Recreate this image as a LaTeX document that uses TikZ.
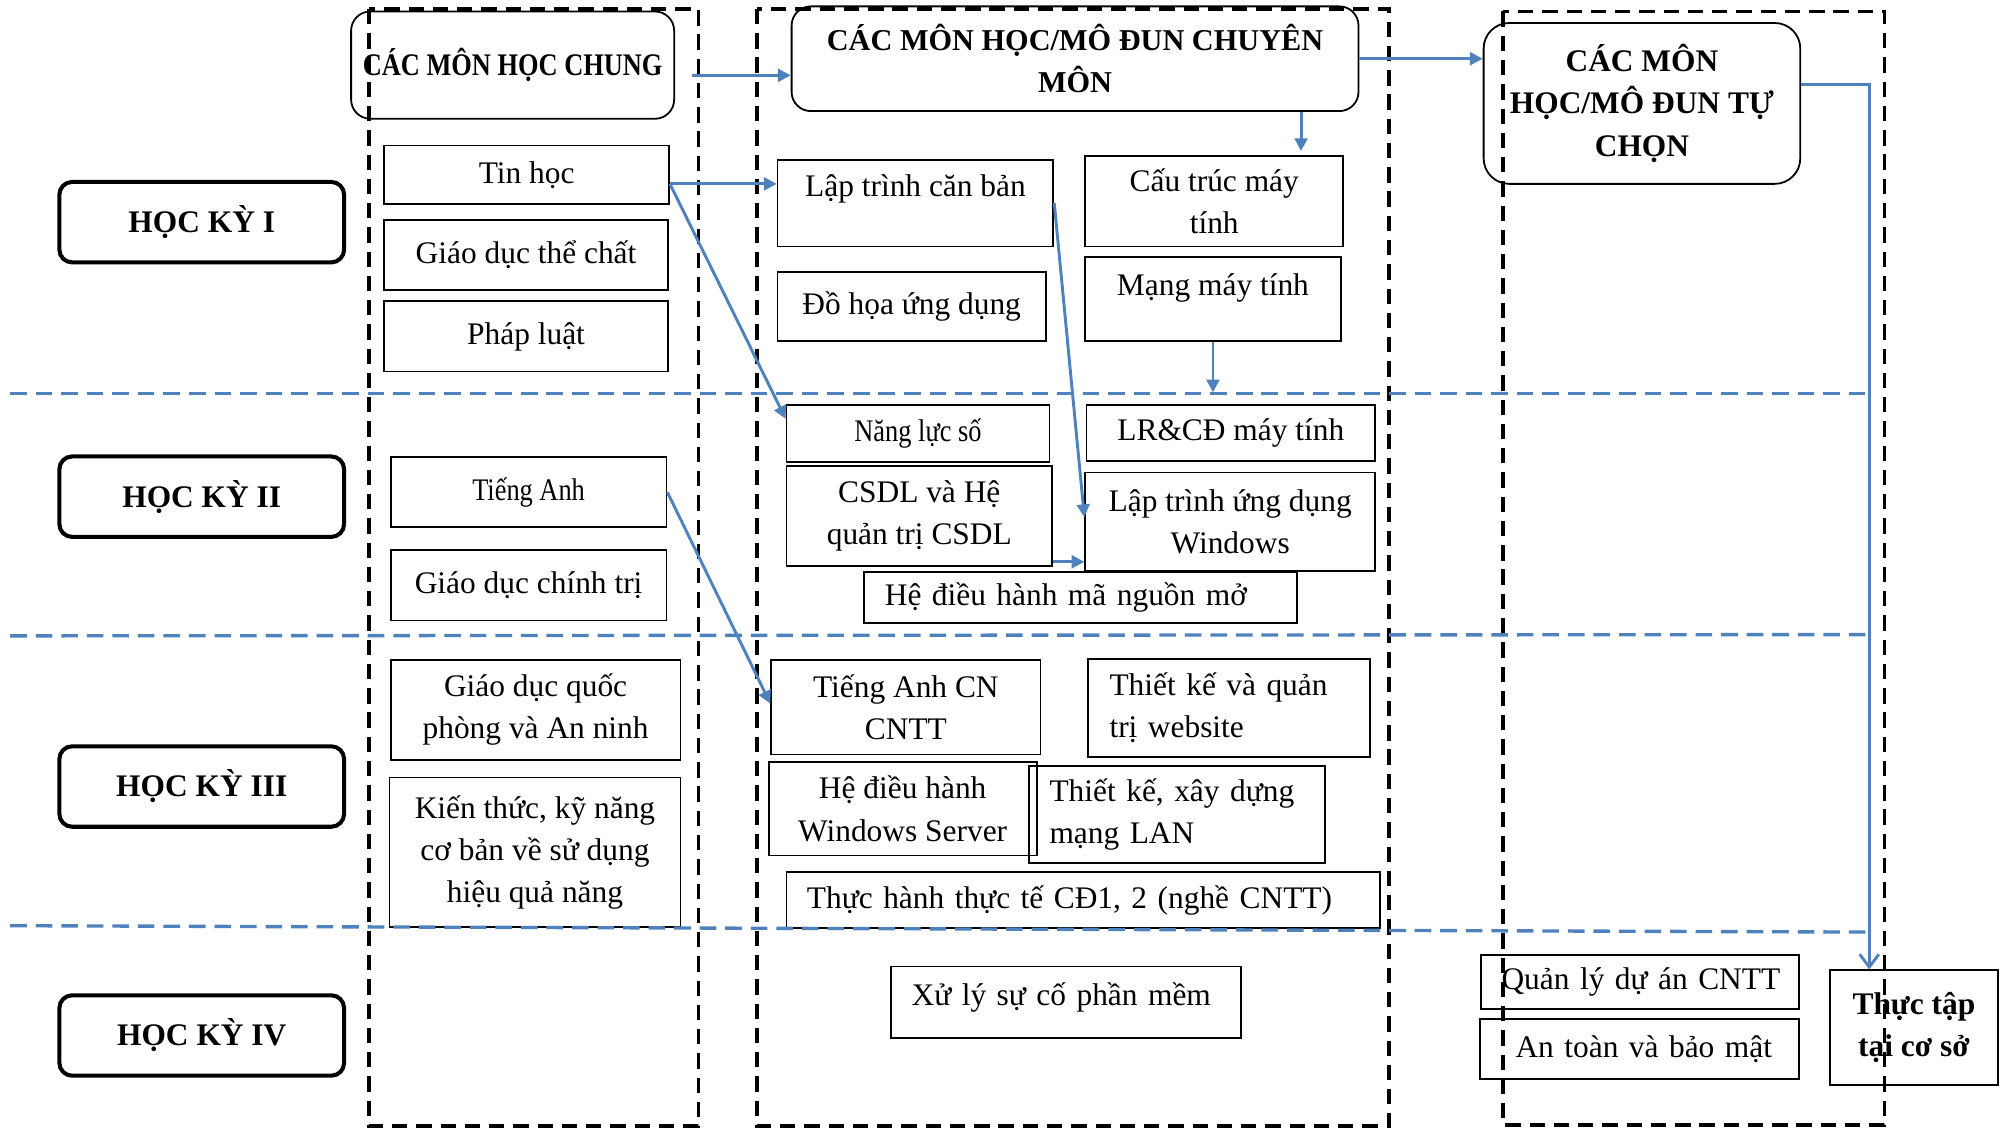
\documentclass[tikz,border=0pt]{standalone}
\usepackage{fontspec}
\setmainfont{Liberation Serif}
\newfontfamily\narrowfont[FakeStretch=0.84]{Liberation Serif}
\usetikzlibrary{arrows.meta}
\definecolor{lineblue}{RGB}{79,129,189}

\begin{document}
\begin{tikzpicture}[x=0.2mm, y=-0.2mm,
    every node/.style={font=\fontsize{14}{18.8}\selectfont},
    box/.style={draw, line width=0.8pt, inner sep=0pt, align=center},
    lbox/.style={box, align=left, inner xsep=3.2mm},
    term/.style={draw, line width=1.8pt, rounded corners=2mm, minimum width=44.6mm,
                 minimum height=12.6mm, font=\fontsize{14}{18.8}\selectfont\bfseries},
    head/.style={draw, line width=0.8pt, rounded corners=3mm, inner sep=0pt, align=center,
                 font=\fontsize{14}{18.8}\selectfont\bfseries},
    col/.style={line width=1.6pt, dash pattern=on 2.4mm off 1.4mm},
    sep/.style={lineblue, line width=1.5pt, dash pattern=on 2.6mm off 1.4mm},
    arr/.style={lineblue, line width=1.3pt, -{Triangle[length=2mm,width=2mm]}}]
    \useasboundingbox (0,0) rectangle (1568,884);

    % semesters
    \foreach \n/\y/\t in {1/174/I, 2/389/II, 3/616/III, 4/811/IV}
        \node[term] (hk\n) at (158,\y) {HỌC KỲ \t};

    % column headers
    \node[head, minimum width=50.6mm, minimum height=16.8mm,
          font=\narrowfont\fontsize{14}{18.8}\selectfont\bfseries] (chung) at (401.5,51) {CÁC MÔN HỌC CHUNG};
    \node[head, minimum width=88.8mm, minimum height=16.4mm,
          font=\fontsize{13.5}{18.8}\selectfont\bfseries] (chuyenmon) at (842,46) {CÁC MÔN HỌC/MÔ ĐUN CHUYÊN\\MÔN};
    \node[head, rounded corners=4mm, minimum width=49.6mm, minimum height=25.2mm,
          font=\fontsize{14}{19}\selectfont\bfseries] (tuchon) at (1286,81) {CÁC MÔN\\HỌC/MÔ ĐUN TỰ\\CHỌN};

    % general subjects
    \node[box, minimum width=44.6mm, minimum height=9.2mm] (tinhoc) at (412.5,137) {Tin học};
    \node[box, minimum width=44.4mm, minimum height=11mm] (gdtc) at (412,199.5) {Giáo dục thể chất};
    \node[box, minimum width=44.4mm, minimum height=11mm] (phapluat) at (412,263.5) {Pháp luật};
    \node[box, minimum width=43.2mm, minimum height=11mm] (tienganh) at (414,385.5) {\narrowfont Tiếng Anh};
    \node[box, minimum width=43.2mm, minimum height=11mm] (gdct) at (414,458.5) {Giáo dục chính trị};
    \node[box, minimum width=45.4mm, minimum height=15.6mm] (gdqp) at (419.5,556) {Giáo dục quốc\\phòng và An ninh};
    \node[box, minimum width=45.6mm, minimum height=23.4mm] (kienthuc) at (419,667.5) {Kiến thức, kỹ năng\\cơ bản về sử dụng\\hiệu quả năng};

    % specialised subjects
    \node[box, minimum width=43.2mm, minimum height=13.6mm, text depth=5.4mm] (ltcb) at (717,159) {Lập trình căn bản};
    \node[box, minimum width=42mm, minimum height=10.8mm] (dohoa) at (714,240) {Đồ họa ứng dụng};
    \node[box, minimum width=40.4mm, minimum height=14.2mm] (cautruc) at (951,157.5) {Cấu trúc máy\\tính};
    \node[box, minimum width=40mm, minimum height=13.2mm, text depth=4.6mm] (mang) at (950,234) {Mạng máy tính};
    \node[box, minimum width=41.2mm, minimum height=9mm] (nangluc) at (719,339.5) {\narrowfont Năng lực số};
    \node[box, minimum width=45.2mm, minimum height=8.8mm] (lrcd) at (964,339) {LR\&CĐ máy tính};
    \node[box, minimum width=41.6mm, minimum height=15.6mm] (csdl) at (720,404) {CSDL và Hệ\\quản trị CSDL};
    \node[box, minimum width=45.4mm, minimum height=15.4mm] (ltudw) at (963.5,408.5) {Lập trình ứng dụng\\Windows};
    \node[lbox, text width=61.4mm, minimum height=8mm] (hdhmnm) at (846.5,468) {Hệ điều hành mã nguồn mở};
    \node[box, minimum width=42.2mm, minimum height=14.8mm] (tacn) at (709.5,554) {Tiếng Anh CN\\CNTT};
    \node[lbox, inner xsep=3.4mm, text width=37.4mm, minimum height=15.4mm] (tkweb) at (962.5,554.5) {Thiết kế và quản\\trị website};
    \node[box, minimum width=42mm, minimum height=14.6mm] (hdhws) at (707,633.5) {Hệ điều hành\\Windows Server};
    \node[lbox, text width=40mm, minimum height=15.2mm] (tklan) at (922,638) {Thiết kế, xây dựng\\mạng LAN};
    \node[lbox, text width=86.6mm, minimum height=8.8mm] (thuchanh) at (848.5,705) {Thực hành thực tế CĐ1, 2 (nghề CNTT)};
    \node[lbox, text width=48.4mm, minimum height=11.2mm, text depth=2.6mm] (xuly) at (835,785) {Xử lý sự cố phần mềm};

    % elective subjects
    \node[lbox, text width=43.4mm, minimum height=8.4mm] (qlda) at (1284.5,769) {\mbox{Quản lý dự án CNTT}};
    \node[lbox, inner xsep=5.6mm, text width=38.8mm, minimum height=9.4mm] (atbm) at (1284,821.5) {\mbox{An toàn và bảo mật}};
    \node[box, minimum width=26.4mm, minimum height=18mm,
          font=\fontsize{14}{18.8}\selectfont\bfseries] (thuctap) at (1499,805) {Thực tập\\tại cơ sở};

    % lanes
    \draw[col] (289,7) rectangle (547,882);
    \draw[col] (593,7) rectangle (1088,882);
    \draw[col] (1177,9) rectangle (1476,881);
    \foreach \ya/\yb in {308/308, 498/497, 725/730}
        \draw[sep] (8,\ya) -- (1462,\yb);

    % arrows
    \coordinate (a1) at ([xshift=2.6mm,yshift=-1.6mm]chung.east);
    \draw[arr] (a1) -- (a1 -| chuyenmon.west);
    \draw[arr] (chuyenmon.east) -- (chuyenmon.east -| tuchon.west);
    \coordinate (a2) at ([xshift=13.6mm]cautruc.north);
    \draw[arr] (a2 |- chuyenmon.south) -- ([yshift=0.6mm]a2);
    \coordinate (a3) at ([yshift=3mm]tuchon.east);
    \draw[arr, -{Straight Barb[length=2mm,width=3mm]}] (a3) -| ([xshift=-7mm]thuctap.north);
    \coordinate (a4) at ([yshift=-1.4mm]tinhoc.east);
    \draw[arr] (a4) -- (a4 -| ltcb.west);
    \draw[arr] (a4) -- ([yshift=2.3mm]nangluc.west);
    \draw[arr] (ltcb.east) -- ([yshift=0.7mm]ltudw.west);
    \coordinate (a5) at (mang.south |- lrcd.north);
    \draw[arr] (mang.south) -- ([yshift=1.8mm]a5);
    \coordinate (a6) at ([yshift=-7.2mm]csdl.east);
    \draw[arr] (a6) -- (a6 -| ltudw.west);
    \draw[arr] (tienganh.east) -- ([yshift=0.6mm]tacn.west);
\end{tikzpicture}
\end{document}
